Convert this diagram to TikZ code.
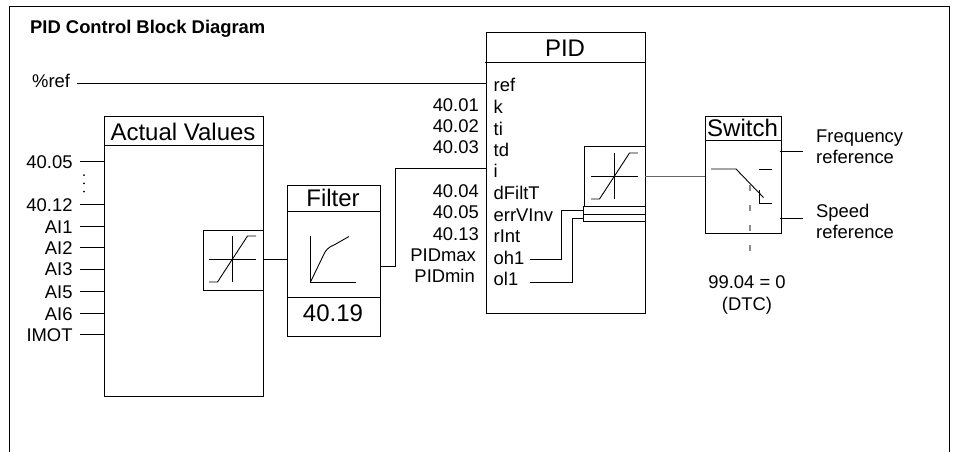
\documentclass[tikz,border=0pt]{standalone}
\usepackage{fontspec}
\setmainfont{Liberation Sans}
\tikzset{
  x=1pt,y=-1pt,
  wire/.style={line width=0.9pt,line join=miter},
  block/.style={draw,line width=0.9pt,inner sep=0pt,anchor=north west},
  lbl/.style={inner sep=0pt,font=\fontsize{18.4}{18.4}\selectfont},
  rlbl/.style={lbl,anchor=base east},
  llbl/.style={lbl,anchor=base west},
  clbl/.style={lbl,anchor=base},
  head/.style={inner sep=0pt,anchor=base,font=\fontsize{24}{24}\selectfont},
  dash line/.style={line width=1.2pt,black!45,dash pattern=on 6pt off 14pt}
}
\newcommand{\satcurve}[2]{%
  \draw[wire] (#1,#2-23) -- (#1,#2+23);
  \draw[wire] (#1-23.5,#2) -- (#1+23.5,#2);
  \draw[wire] (#1-23.5,#2+23) -- (#1-15,#2+23) -- (#1+15,#2-23) -- (#1+23.5,#2-23);
}
\begin{document}
\begin{tikzpicture}
\useasboundingbox (0,0) rectangle (955,452);
\fill[white] (0,0) rectangle (955,452);
% frame
\coordinate (fbl) at (9.5,452);
\coordinate (ftl) at (9.5,6.5);
\coordinate (ftr) at (949.5,6.5);
\coordinate (fbr) at (949.5,452);
\draw[wire] (fbl) -- (ftl) -- (ftr) -- (fbr);
\node[inner sep=0pt,anchor=base west,font=\bfseries\fontsize{18.4}{18.4}\selectfont] (title) at (30,33.3) {PID Control Block Diagram};
\node[llbl] (lref) at (32,87.5) {\%ref};
% Actual Values
\node[block,minimum width=159pt,minimum height=280pt] (av) at (103.5,115.5) {};
\coordinate (avh1) at (103.5,145.5); \coordinate (avh2) at (262.5,145.5);
\draw[wire] (avh1) -- (avh2);
\node[head] (avt) at (183,140) {Actual Values};
\foreach \t/\y/\b/\n in {40.05/161/168.3/a,40.12/204.5/211/b,AI1/226.5/233/c,AI2/247.5/254/d,AI3/269/275.7/e,AI5/291.5/298/f,AI6/313.5/320/g,IMOT/334.5/341/h}{
  \node[rlbl] (in\n) at (72.7,\b) {\t};
  \coordinate (ie\n) at (103.5,\y);
  \coordinate (is\n) at (80,\y);
  \draw[wire] (is\n) -- (ie\n);
}
\fill (84,175) circle (1pt) (84,183.3) circle (1pt) (84,191.7) circle (1pt);
\node[block,minimum width=60pt,minimum height=60pt] (s1) at (202.5,229.5) {};
\draw[wire] (262.5,229.5) -- (264,229.5);
\satcurve{232.5}{259}
% Filter
\node[block,minimum width=93pt,minimum height=151pt] (fi) at (286.5,184.5) {};
\coordinate (fh1) at (286.5,211); \coordinate (fh2) at (379.5,211);
\coordinate (fl1) at (286.5,297); \coordinate (fl2) at (379.5,297);
\draw[wire] (fh1) -- (fh2);
\draw[wire] (fl1) -- (fl2);
\node[head] (ft) at (333,206) {Filter};
\node[head] (fv) at (333,321.7) {40.19};
\draw[wire] (310.5,236) -- (310.5,282) -- (356,282);
\draw[wire] (310.5,282) -- (325,252) .. controls (328,248) and (330,246.5) .. (334,245) -- (349,236.5);
\draw[wire] (262.5,259) -- (286.5,259);
% PID
\node[block,minimum width=159pt,minimum height=280pt] (pid) at (485.5,32.5) {};
\coordinate (ph1) at (484.5,62.5); \coordinate (ph2) at (644.5,62.5);
\draw[wire] (ph1) -- (ph2);
\node[head] (pt) at (565,56.7) {PID};
\foreach \t/\b in {ref/91,k/113,ti/135,td/156,i/177,dFiltT/199,errVInv/221,rInt/242,oh1/264,ol1/285}{
  \node[llbl] at (493.5,\b) {\t};
}
\foreach \t/\b/\r in {40.01/111.7/479,40.02/132.7/479,40.03/153/479,40.04/197.7/479,40.05/218.7/479,40.13/240/479,PIDmax/261.7/476,PIDmin/282.3/475}{
  \node[rlbl] at (\r,\b) {\t};
}
\coordinate (rs) at (77,83.5);
\draw[wire] (rs) -- (485.5,83.5);
\draw[wire] (379.5,266) -- (395,266) -- (395,168.5) -- (485.5,168.5);
\node[block,minimum width=61pt,minimum height=60.5pt] (s2) at (583.5,145.5) {};
\satcurve{614.5}{176}
\draw[wire] (583.5,206) -- (583.5,221.5) -- (644.5,221.5);
\draw[wire] (583.5,214) -- (644.5,214);
\draw[wire] (530,259) -- (561,259) -- (561,210) -- (583.5,210);
\draw[wire] (530,282) -- (572,282) -- (572,218) -- (583.5,218);
% Switch
\node[block,minimum width=76pt,minimum height=117.5pt] (sw) at (704.5,115.5) {};
\draw[wire] (704.5,140.5) -- (780.5,140.5);
\node[head] (swt) at (742.5,136) {Switch};
\draw[wire,black!60] (644.5,176) -- (704.5,176);
\draw[dash line] (750,185) -- (750,262);
\draw[wire] (711,169) -- (736,169) -- (763.5,197.5);
\draw[wire] (759,169) -- (772,169);
\draw[wire] (759,190) -- (759,203) -- (772,203);
\draw[wire] (779.5,151) -- (803,151);
\draw[wire] (779.5,218) -- (803,218);
\node[llbl] at (816,142.7) {Frequency};
\node[llbl] at (816,163) {reference};
\node[llbl] at (816,217) {Speed};
\node[llbl] at (816,238) {reference};
\node[clbl] at (747,288.7) {99.04 = 0};
\node[clbl] at (747,310) {(DTC)};
\end{tikzpicture}
\end{document}
